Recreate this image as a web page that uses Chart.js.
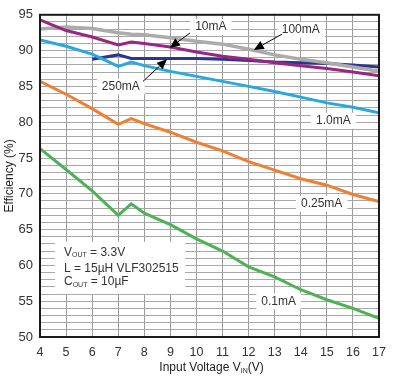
<!DOCTYPE html>
<html><head><meta charset="utf-8">
<script src="https://cdn.jsdelivr.net/npm/chart.js@4/dist/chart.umd.min.js"></script>
<style>html,body{margin:0;padding:0;background:#fff;}#wrap{width:394px;height:383px;}</style>
</head><body><div id="wrap"><canvas id="c" width="394" height="383"></canvas></div>
<script>
const voltage = [4,5,6,7,7.5,8,9,10,11,12,13,14,15,16,17];
const eff_0p1mA  = [76.3,73.4,70.4,67.0,68.6,67.3,65.7,63.7,62.0,59.8,58.4,56.6,55.2,54.0,52.6];
const eff_0p25mA = [85.7,83.9,81.9,79.7,80.5,79.8,78.6,77.2,76.0,74.5,73.3,72.1,71.2,69.9,68.9];
const eff_1mA    = [91.5,90.6,89.5,87.8,88.4,87.9,87.1,86.4,85.7,85.0,84.3,83.5,82.7,82.1,81.3];
const eff_10mA   = [94.3,92.8,91.9,90.8,91.2,91.0,90.5,89.8,89.2,88.8,88.3,87.9,87.5,87.0,86.5];
const eff_100mA  = [93.0,93.3,93.1,92.5,92.3,92.2,91.8,91.3,90.9,90.2,89.4,88.8,88.3,87.7,87.1];
const eff_250mA  = [null,null,88.8,89.4,88.9,88.9,88.9,88.9,88.8,88.6,88.4,88.3,88.2,88.0,87.7];
const xTicks = [4,5,6,7,8,9,10,11,12,13,14,15,16,17];
const yTickLabels = [50,55,60,65,70,75,80,85,90,95];

function pts(arr){ const o=[]; voltage.forEach((v,i)=>{ if(arr[i]!==null) o.push({x:v,y:arr[i]}); }); return o; }
function ds(label, arr, color, w){ return {label, data:pts(arr), borderColor:color, backgroundColor:color, borderWidth:w||3, pointRadius:0, tension:0, fill:false}; }

const FONT = '"Liberation Sans", Arial, sans-serif';

const annot = {
  id:'annot',
  afterDatasetsDraw(chart){
    const ctx=chart.ctx, xs=chart.scales.x, ys=chart.scales.y, a=chart.chartArea;
    const X=v=>xs.getPixelForValue(v), Y=v=>ys.getPixelForValue(v);
    ctx.save();
    ctx.strokeStyle='#1a1a1a'; ctx.lineWidth=2;
    ctx.strokeRect(a.left, a.top, a.right-a.left, a.bottom-a.top);
    function arrow(x1,y1,x2,y2){
      ctx.strokeStyle='#000'; ctx.fillStyle='#000'; ctx.lineWidth=1;
      const ang=Math.atan2(y2-y1,x2-x1), L=10, W=4.5;
      const bx=x2-L*Math.cos(ang), by=y2-L*Math.sin(ang);
      ctx.beginPath(); ctx.moveTo(x1,y1); ctx.lineTo(bx,by); ctx.stroke();
      ctx.beginPath(); ctx.moveTo(x2,y2);
      ctx.lineTo(bx+W*Math.sin(ang), by-W*Math.cos(ang));
      ctx.lineTo(bx-W*Math.sin(ang), by+W*Math.cos(ang));
      ctx.closePath(); ctx.fill();
    }
    function label(t,vx,vy){
      ctx.font='12px '+FONT;
      const w=ctx.measureText(t).width, x=X(vx), y=Y(vy);
      ctx.fillStyle='#fff'; ctx.fillRect(x-w/2-5, y-8, w+10, 16);
      ctx.fillStyle='#333'; ctx.textAlign='center'; ctx.textBaseline='middle';
      ctx.fillText(t,x,y);
    }
    label('10mA',10.55,93.3);
    arrow(X(9.75),Y(92.45),X(8.98),Y(90.4));
    label('100mA',14.0,92.9);
    arrow(X(13.28),Y(92.3),X(12.2),Y(90.1));
    label('250mA',7.1,85.0);
    arrow(X(7.95),Y(85.7),X(8.87),Y(88.8));
    label('1.0mA',15.25,80.2);
    label('0.25mA',14.8,68.6);
    label('0.1mA',13.15,55.0);
    ctx.fillStyle='#fff';
    ctx.fillRect(X(4.58), Y(63.3), X(9.56)-X(4.58), Y(56.0)-Y(63.3));
    ctx.fillStyle='#333'; ctx.textAlign='left'; ctx.textBaseline='middle';
    function sub(parts, x, y){
      let cx=x;
      parts.forEach(p=>{
        if(p[1]){ ctx.font='7px '+FONT; ctx.fillText(p[0],cx,y+3); }
        else { ctx.font='12px '+FONT; ctx.fillText(p[0],cx,y); }
        cx+=ctx.measureText(p[0]).width;
      });
    }
    const lx=X(4.92);
    sub([['V',0],['OUT',1],[' = 3.3V',0]], lx, Y(61.8));
    sub([['L = 15\u00B5H VLF302515',0]], lx, Y(59.6));
    sub([['C',0],['OUT',1],[' = 10\u00B5F',0]], lx, Y(57.7));
    ctx.fillStyle='#222';
    const tw = (()=>{ctx.font='12px '+FONT; const a1=ctx.measureText('Input Voltage V').width, a3=ctx.measureText('(V)').width; ctx.font='7px '+FONT; return a1+a3+ctx.measureText('IN').width;})();
    sub([['Input Voltage V',0],['IN',1],['(V)',0]], (a.left+a.right)/2 - tw/2 + 2, 368);
    ctx.save();
    ctx.translate(10,(a.top+a.bottom)/2);
    ctx.rotate(-Math.PI/2);
    ctx.font='12px '+FONT; ctx.textAlign='center'; ctx.textBaseline='middle';
    ctx.fillText('Efficiency (%)',0,0);
    ctx.restore();
    ctx.restore();
  }
};

new Chart(document.getElementById('c'), {
  type:'line',
  data:{ datasets:[
    ds('0.1mA', eff_0p1mA, '#4fb155'),
    ds('0.25mA', eff_0p25mA, '#ef7f32'),
    ds('1.0mA', eff_1mA, '#27a9df'),
    ds('10mA', eff_10mA, '#9c2482'),
    ds('100mA', eff_100mA, '#ababab', 3.5),
    ds('250mA', eff_250mA, '#2d3590')
  ]},
  options:{
    responsive:false, animation:false, devicePixelRatio:1,
    layout:{padding:{left:0,right:15,top:9,bottom:0}},
    plugins:{legend:{display:false}, tooltip:{enabled:false}},
    scales:{
      x:{ type:'linear', min:4, max:17,
        afterBuildTicks(s){ s.ticks = xTicks.map(v=>({value:v})); },
        afterFit(s){ s.height=46; },
        grid:{color:'#9c9c9c', lineWidth:1, drawTicks:false},
        border:{display:false},
        ticks:{font:{size:12.5,family:FONT}, color:'#333', padding:8, maxRotation:0, autoSkip:false}
      },
      y:{ min:50, max:95,
        ticks:{stepSize:1, autoSkip:false, font:{size:13,family:FONT}, color:'#333', padding:7,
          callback:(v)=> yTickLabels.includes(v) ? String(v) : ''},
        afterFit(s){ s.width=40; },
        grid:{color:'#a8a8a8', lineWidth:1, drawTicks:false},
        border:{display:false}
      }
    }
  },
  plugins:[annot]
});
</script></body></html>
